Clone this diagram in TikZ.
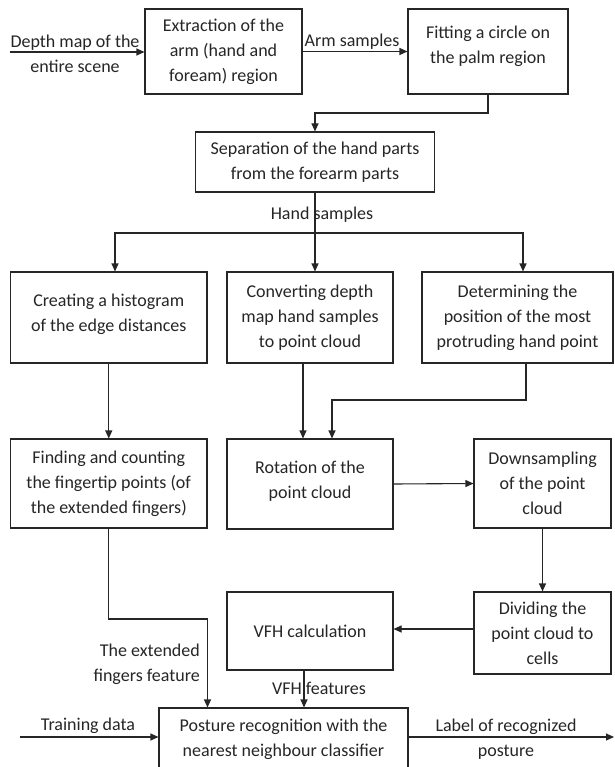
\documentclass[tikz,border=0pt]{standalone}
\usepackage{fontspec}
\setmainfont{Carlito}
\usetikzlibrary{arrows.meta,calc}
\begin{document}
\begin{tikzpicture}[x=1pt,y=-1pt,
  box/.style={draw=black!85, line width=1.1pt, rectangle, align=center, inner sep=0pt, font=\fontsize{18}{25}\selectfont, text=black!85},
  lbl/.style={align=center, inner sep=0pt, font=\fontsize{18}{25}\selectfont, text=black!85},
  arr/.style={draw=black!85, line width=1.1pt, -{Triangle[length=8pt,width=7pt]}}]
\useasboundingbox (0,0) rectangle (614,767);
\fill[white] (0,0) rectangle (614,767);
% boxes
\node[box, minimum width=157pt, minimum height=85pt] (b1) at (223.5,51.5) {Extraction of the\\arm (hand and\\foream) region};
\node[box, minimum width=160pt, minimum height=85pt] (b2) at (488,51.5) {};
\node[lbl] (b2t) at ($(b2.center)+(0,-5)$) {Fitting a circle on\\the palm region};
\node[box, minimum width=239pt, minimum height=60pt] (b3) at (315,162) {Separation of the hand parts\\from the forearm parts};
\node[box, minimum width=196.5pt, minimum height=91pt] (b4) at (108.75,317.5) {};
\node[lbl] (b4t) at ($(b4.center)+(0,-3)$) {Creating a histogram\\of the edge distances};
\node[box, minimum width=166pt, minimum height=91pt] (b5) at (310,317.5) {Converting depth\\map hand samples\\to point cloud};
\node[box, minimum width=191pt, minimum height=91pt] (b6) at (517.5,317.5) {Determining the\\position of the most\\protruding hand point};
\node[box, minimum width=196.5pt, minimum height=89pt] (b7) at (108.75,483.5) {Finding and counting\\the fingertip points (of\\the extended fingers)};
\node[box, minimum width=166pt, minimum height=90pt] (b8) at (310,484) {};
\node[lbl] (b8t) at ($(b8.center)+(0,-3)$) {Rotation of the\\point cloud};
\node[box, minimum width=137pt, minimum height=89pt] (b9) at (542.5,483.5) {Downsampling\\of the point\\cloud};
\node[box, minimum width=166pt, minimum height=78pt] (b10) at (310,631) {VFH calculation};
\node[box, minimum width=137pt, minimum height=82pt] (b11) at (542.5,633) {Dividing the\\point cloud to\\cells};
\node[box, minimum width=249pt, minimum height=63pt] (b12) at (283.5,739.5) {Posture recognition with the\\nearest neighbour classifier};
% labels
\node[lbl] (l1) at (75,54) {Depth map of the\\entire scene};
\node[lbl] (l2) at (352,42) {Arm samples};
\node[lbl] (l3) at (322,215) {Hand samples};
\node[lbl, align=right, anchor=east] (l4) at (200,664.5) {The extended\\fingers feature};
\node[lbl] (l5) at (319,688) {VFH features};
\node[lbl] (l6) at (88,726) {Training data};
\node[lbl] (l7) at (506,739) {Label of recognized\\posture};
% connectors
\coordinate (in1) at (10,52);
\draw[arr] (in1) -- (in1 -| b1.west);
\draw[arr] (b1.east) -- (b2.west);
\draw[arr] (b2.south) -- (b2.south |- 0,113) -- (b3.north |- 0,113) -- (b3.north);
\draw[arr] (b3.south) -- (b3.south |- b5.north);
\coordinate (sp) at (315,233);
\draw[arr] (sp) -| (b4.north -| 115,0);
\draw[arr] (sp) -| (b6.north -| 523,0);
\draw[arr] (b4.south) -- (b7.north);
\draw[arr] (b5.south -| 303,0) -- (b8.north -| 303,0);
\draw[arr] (b6.south -| 526,0) |- (332,400) -- (b8.north -| 332,0);
\draw[arr] (b8.east) -- (b9.west);
\draw[arr] (b9.south) -- (b11.north);
\draw[arr] (b11.west |- 0,629) -- (b10.east |- 0,629);
\draw[arr] (b7.south) |- (207.5,619) -- (b12.north -| 207.5,0);
\draw[arr] (b10.south -| 304,0) -- (b12.north -| 304,0);
\coordinate (tr) at (20,737);
\draw[arr] (tr) -- (tr -| b12.west);
\coordinate (out) at (614,737);
\draw[arr] (b12.east |- out) -- (out);
\end{tikzpicture}
\end{document}
